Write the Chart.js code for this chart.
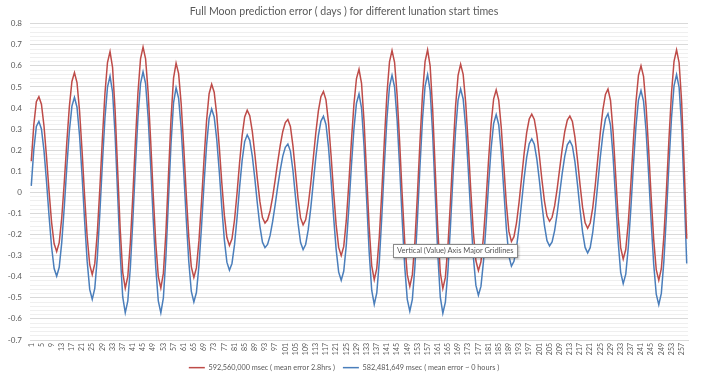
<!DOCTYPE html>
<html>
<head>
<meta charset="utf-8">
<script src="https://cdn.jsdelivr.net/npm/chart.js@4"></script>
<style>
  html, body { margin: 0; padding: 0; background: #fff; }
  #wrap { position: relative; width: 701px; height: 378px; }
  #tip {
    position: absolute; left: 393px; top: 244px;
    font: 7.5px Lato, sans-serif; color: #575757; line-height: 12px;
    padding: 0 3px; background: #fff; border: 1px solid #8a8a8a;
    box-shadow: 1px 1px 2px rgba(0,0,0,0.3); white-space: nowrap;
  }
</style>
</head>
<body>
<div id="wrap">
  <canvas id="chart" width="701" height="378"></canvas>
  <div id="tip">Vertical (Value) Axis Major Gridlines</div>
</div>
<script>
const chartTitle = "Full Moon prediction error ( days ) for different lunation start times";
const seriesNames = ["592,560,000 msec ( mean error 2.8hrs )", "582,481,649 msec ( mean error ~ 0 hours )"];

// lunation number 1..259
const lunation = Array.from({ length: 259 }, (_, i) => String(i + 1));

// error in days, 592,560,000 msec start
const errLong = [
  0.148,0.32,0.43,0.454,0.418,0.316,0.169,0.005,-0.142,-0.244,
  -0.28,-0.238,-0.12,0.049,0.239,0.408,0.526,0.568,0.521,0.387,
  0.196,-0.018,-0.209,-0.343,-0.39,-0.338,-0.191,0.021,0.257,0.469,
  0.616,0.668,0.593,0.388,0.107,-0.174,-0.379,-0.454,-0.398,-0.239,
  -0.01,0.245,0.474,0.633,0.689,0.633,0.474,0.245,-0.01,-0.239,
  -0.398,-0.454,-0.383,-0.188,0.08,0.347,0.542,0.613,0.563,0.421,
  0.218,-0.008,-0.211,-0.353,-0.403,-0.358,-0.23,-0.047,0.157,0.34,
  0.468,0.513,0.475,0.369,0.216,0.045,-0.108,-0.214,-0.252,-0.22,
  -0.131,-0.003,0.141,0.269,0.358,0.39,0.364,0.289,0.182,0.063,
  -0.044,-0.119,-0.145,-0.13,-0.088,-0.022,0.058,0.144,0.223,0.289,
  0.331,0.346,0.313,0.221,0.096,-0.029,-0.121,-0.154,-0.13,-0.061,
  0.041,0.162,0.283,0.385,0.454,0.478,0.439,0.331,0.176,0.002,
  -0.153,-0.261,-0.3,-0.256,-0.133,0.043,0.241,0.417,0.54,0.584,
  0.517,0.335,0.085,-0.165,-0.347,-0.414,-0.36,-0.209,0.008,0.251,
  0.468,0.619,0.673,0.617,0.462,0.238,-0.011,-0.235,-0.39,-0.446,
  -0.39,-0.235,-0.01,0.24,0.465,0.62,0.676,0.6,0.393,0.11,
  -0.173,-0.38,-0.456,-0.403,-0.255,-0.043,0.195,0.407,0.555,0.608,
  0.56,0.424,0.228,0.01,-0.187,-0.323,-0.371,-0.329,-0.21,-0.039,
  0.154,0.325,0.444,0.486,0.438,0.307,0.127,-0.054,-0.185,-0.233,
  -0.21,-0.145,-0.047,0.069,0.185,0.283,0.348,0.371,0.346,0.275,
  0.174,0.06,-0.041,-0.112,-0.137,-0.118,-0.064,0.017,0.113,0.208,
  0.289,0.343,0.362,0.336,0.262,0.155,0.037,-0.07,-0.144,-0.17,
  -0.145,-0.073,0.034,0.16,0.286,0.393,0.465,0.49,0.436,0.289,
  0.087,-0.115,-0.262,-0.316,-0.271,-0.143,0.04,0.244,0.427,0.555,
  0.6,0.55,0.408,0.205,-0.021,-0.224,-0.366,-0.416,-0.362,-0.21,
  0.008,0.252,0.47,0.622,0.676,0.615,0.43,0.12,-0.22
];

// error in days, 582,481,649 msec start
const errShort = [
  0.031,0.203,0.313,0.337,0.301,0.199,0.052,-0.112,-0.259,-0.361,
  -0.397,-0.355,-0.237,-0.068,0.122,0.291,0.409,0.451,0.404,0.27,
  0.079,-0.135,-0.326,-0.46,-0.507,-0.455,-0.308,-0.096,0.14,0.352,
  0.499,0.551,0.476,0.271,-0.01,-0.291,-0.496,-0.571,-0.515,-0.356,
  -0.127,0.128,0.357,0.516,0.572,0.516,0.357,0.128,-0.127,-0.356,
  -0.515,-0.571,-0.5,-0.305,-0.037,0.23,0.425,0.496,0.446,0.304,
  0.101,-0.125,-0.328,-0.47,-0.52,-0.475,-0.347,-0.164,0.04,0.223,
  0.351,0.396,0.358,0.252,0.099,-0.072,-0.225,-0.331,-0.369,-0.337,
  -0.248,-0.12,0.024,0.152,0.241,0.273,0.247,0.172,0.065,-0.054,
  -0.161,-0.236,-0.262,-0.247,-0.205,-0.139,-0.059,0.027,0.106,0.172,
  0.214,0.229,0.196,0.104,-0.021,-0.146,-0.238,-0.271,-0.247,-0.178,
  -0.076,0.045,0.166,0.268,0.337,0.361,0.322,0.214,0.059,-0.115,
  -0.27,-0.378,-0.417,-0.373,-0.25,-0.074,0.124,0.3,0.423,0.467,
  0.4,0.218,-0.032,-0.282,-0.464,-0.531,-0.477,-0.326,-0.109,0.134,
  0.351,0.502,0.556,0.5,0.345,0.121,-0.128,-0.352,-0.507,-0.563,
  -0.507,-0.352,-0.127,0.123,0.348,0.503,0.559,0.483,0.276,-0.007,
  -0.29,-0.497,-0.573,-0.52,-0.372,-0.16,0.078,0.29,0.438,0.491,
  0.443,0.307,0.111,-0.107,-0.304,-0.44,-0.488,-0.446,-0.327,-0.156,
  0.037,0.208,0.327,0.369,0.321,0.19,0.01,-0.171,-0.302,-0.35,
  -0.327,-0.262,-0.164,-0.048,0.068,0.166,0.231,0.254,0.229,0.158,
  0.057,-0.057,-0.158,-0.229,-0.254,-0.235,-0.181,-0.1,-0.004,0.091,
  0.172,0.226,0.245,0.219,0.145,0.038,-0.08,-0.187,-0.261,-0.287,
  -0.262,-0.19,-0.083,0.043,0.169,0.276,0.348,0.373,0.319,0.172,
  -0.03,-0.232,-0.379,-0.433,-0.388,-0.26,-0.077,0.127,0.31,0.438,
  0.483,0.433,0.291,0.088,-0.138,-0.341,-0.483,-0.533,-0.479,-0.327,
  -0.109,0.135,0.353,0.505,0.559,0.498,0.313,0.003,-0.337
];

const yMin = -0.7;
const yMax = 0.8;
const txt = "#595959";
const legendPad = 8;

// legend padding also pushes the items down, set the box where the row should sit
const legendNudge = {
  id: "legendNudge",
  afterLayout(chart) {
    const lg = chart.legend;
    lg.top = 367.5 - legendPad - 3.5;
    lg.bottom = chart.height;
    lg.height = lg.bottom - lg.top;
  },
};

const ctx = document.getElementById("chart").getContext("2d");
const myChart = new Chart(ctx, {
  type: "line",
  data: {
    labels: lunation,
    datasets: [
      {
        label: seriesNames[0],
        data: errLong,
        borderColor: "#BE4B48",
        backgroundColor: "#BE4B48",
        borderWidth: 1.5,
        pointRadius: 0,
        tension: 0,
      },
      {
        label: seriesNames[1],
        data: errShort,
        borderColor: "#4A7EBB",
        backgroundColor: "#4A7EBB",
        borderWidth: 1.5,
        pointRadius: 0,
        tension: 0,
      },
    ],
  },
  plugins: [legendNudge],
  options: {
    responsive: false,
    animation: false,
    devicePixelRatio: 1,
    layout: { padding: { left: 0, right: 13, top: 0, bottom: 0 } },
    plugins: {
      tooltip: { enabled: false },
      title: {
        display: true,
        text: chartTitle,
        color: txt,
        font: { family: "Lato", size: 10.6, weight: "normal" },
        padding: { top: 5, bottom: 6 },
      },
      legend: {
        position: "bottom",
        maxHeight: 20,
        labels: {
          usePointStyle: true,
          pointStyle: "line",
          pointStyleWidth: 16,
          boxHeight: 7,
          padding: legendPad,
          color: txt,
          font: { family: "Lato", size: 7.3 },
        },
      },
    },
    scales: {
      x: {
        offset: true,
        grid: { display: false, drawTicks: false },
        border: { display: true, color: "#d9d9d9" },
        ticks: {
          autoSkip: false,
          minRotation: 90,
          maxRotation: 90,
          padding: 3,
          color: txt,
          font: { family: "Lato", size: 7 },
          callback: (v, i) => (i % 4 === 0 ? lunation[i] : ""),
        },
        afterFit: (s) => { s.height = 18; },
      },
      y: {
        min: yMin,
        max: yMax,
        border: { display: false },
        grid: {
          drawTicks: false,
          color: (c) => (Math.round(c.tick.value * 50) % 5 === 0 ? "#d9d9d9" : "#efefef"),
        },
        ticks: {
          stepSize: 0.02,
          autoSkip: false,
          padding: 8,
          color: txt,
          font: { family: "Lato", size: 8 },
          callback: (v) => {
            const r = Math.round(v * 100);
            return r % 10 === 0 ? String(r / 100) : "";
          },
        },
        afterFit: (s) => { s.width = 30; },
      },
    },
  },
});
</script>
</body>
</html>
